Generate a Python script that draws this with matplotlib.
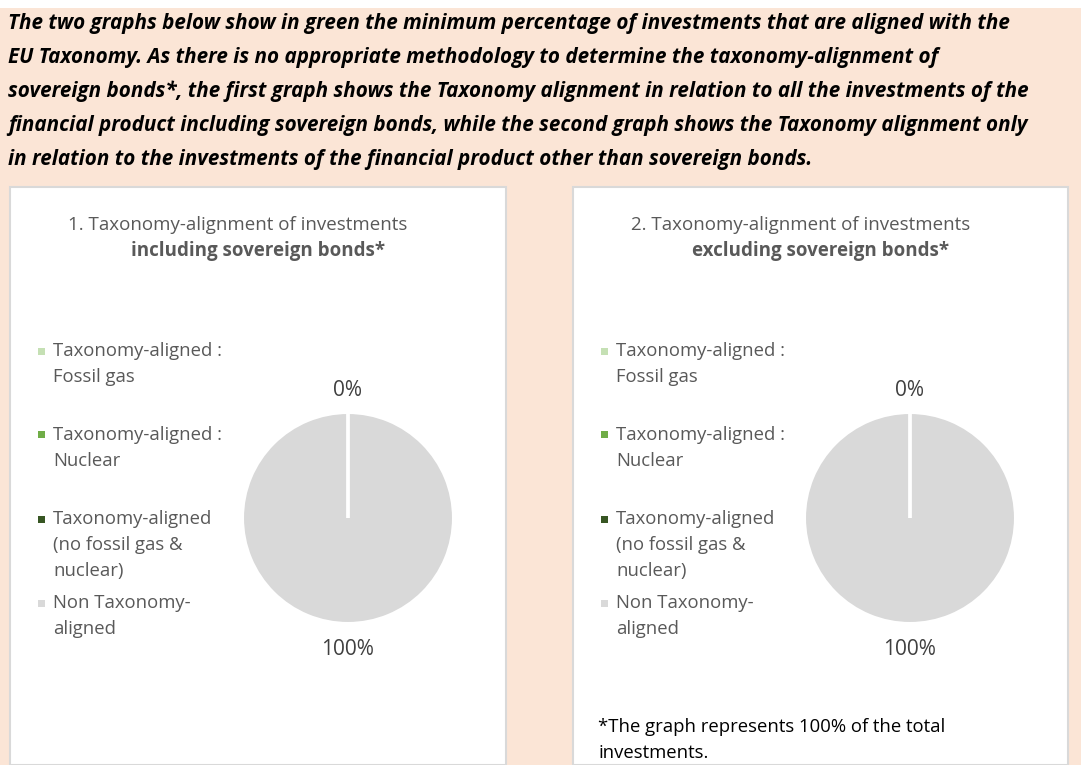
import matplotlib
matplotlib.use("Agg")
import matplotlib.pyplot as plt
from matplotlib.patches import Rectangle
import numpy as np

W, H = 1081, 765

header_lines = [
    "The two graphs below show in green the minimum percentage of investments that are aligned with the",
    "EU Taxonomy. As there is no appropriate methodology to determine the taxonomy-alignment of",
    "sovereign bonds*, the first graph shows the Taxonomy alignment in relation to all the investments of the",
    "financial product including sovereign bonds, while the second graph shows the Taxonomy alignment only",
    "in relation to the investments of the financial product other than sovereign bonds.",
]

categories = [
    "Taxonomy-aligned :\nFossil gas",
    "Taxonomy-aligned :\nNuclear",
    "Taxonomy-aligned\n(no fossil gas &\nnuclear)",
    "Non Taxonomy-\naligned",
]
colors = ["#C5E0B4", "#70AD47", "#375623", "#D9D9D9"]

incl_values = [0, 0, 0, 100]
excl_values = [0, 0, 0, 100]

chart_titles = [
    ("1. Taxonomy-alignment of investments", "including sovereign bonds*"),
    ("2. Taxonomy-alignment of investments", "excluding sovereign bonds*"),
]
footnote = ["*The graph represents 100% of the total", "investments."]

plt.rcParams["font.family"] = ["Open Sans", "DejaVu Sans"]

fig = plt.figure(figsize=(W / 100, H / 100), dpi=100)
fig.patch.set_facecolor("white")


def fx(x):
    return x / W


def fy(y):
    return 1 - y / H


# peach background below the thin white strip
fig.add_artist(Rectangle((0, 0), 1, fy(8), transform=fig.transFigure,
                         facecolor="#FBE5D6", edgecolor="none", zorder=0))

for i, line in enumerate(header_lines):
    fig.text(fx(8), fy(23 + 34.1 * i), line, fontsize=14.9, fontweight="bold",
             fontstyle="italic", color="black", va="center", ha="left")

panels = [(10, 506), (573, 1068)]
pie_centers = [(348, 518), (910, 518)]
radius = 105.5

for k, (values, (left, right), (cx, cy)) in enumerate(
        zip([incl_values, excl_values], panels, pie_centers)):
    # white chart panel
    fig.add_artist(Rectangle((fx(left), 0), fx(right - left), fy(187),
                             transform=fig.transFigure, facecolor="white",
                             edgecolor="#D9D9D9", lw=1.5, zorder=1))
    mid = (left + right) / 2
    fig.text(fx(mid - 20), fy(225), chart_titles[k][0], fontsize=13.5,
             color="#595959", ha="center", va="center", zorder=3)
    fig.text(fx(mid), fy(251), chart_titles[k][1], fontsize=13.5,
             fontweight="bold", color="#595959", ha="center", va="center", zorder=3)

    # legend
    lx = left + 31
    for j, (cat, col) in enumerate(zip(categories, colors)):
        y0 = 351 + 84 * j
        fig.add_artist(Rectangle((fx(lx - 3.5), fy(y0 + 3.5)), fx(7), 7 / H,
                                 transform=fig.transFigure, facecolor=col,
                                 edgecolor="none", zorder=3))
        for n, part in enumerate(cat.split("\n")):
            fig.text(fx(lx + 12), fy(y0 + 26 * n), part, fontsize=13.3,
                     color="#595959", ha="left", va="center", zorder=3)

    ax = fig.add_axes([fx(cx - radius), fy(cy + radius), fx(2 * radius), 2 * radius / H])
    ax.set_zorder(2)
    wedges, _ = ax.pie(values, colors=colors, startangle=90, counterclock=False,
                       wedgeprops=dict(edgecolor="white", linewidth=2.2))
    # empty slices stay on top so their white edges show as a line
    for w, v in zip(wedges, values):
        if v == 0:
            w.set_zorder(3)
    ax.set_xlim(-1, 1)
    ax.set_ylim(-1, 1)
    ax.axis("off")

    # percentage labels outside the pie
    total = sum(values)
    placed = set()
    for w, v in zip(wedges, values):
        ang = np.deg2rad((w.theta1 + w.theta2) / 2)
        dist = 1.21 if v == 0 else 1.25
        key = (round(np.cos(ang), 3), round(np.sin(ang), 3))
        if key in placed:
            continue
        placed.add(key)
        ax.text(dist * np.cos(ang), dist * np.sin(ang), f"{v / total * 100:.0f}%",
                ha="center", va="center", fontsize=15, color="#404040",
                clip_on=False)

for n, part in enumerate(footnote):
    fig.text(fx(598), fy(727 + 25.5 * n), part, fontsize=13.3, color="black",
             ha="left", va="center", zorder=3)

fig.savefig("out.png", dpi=100)
